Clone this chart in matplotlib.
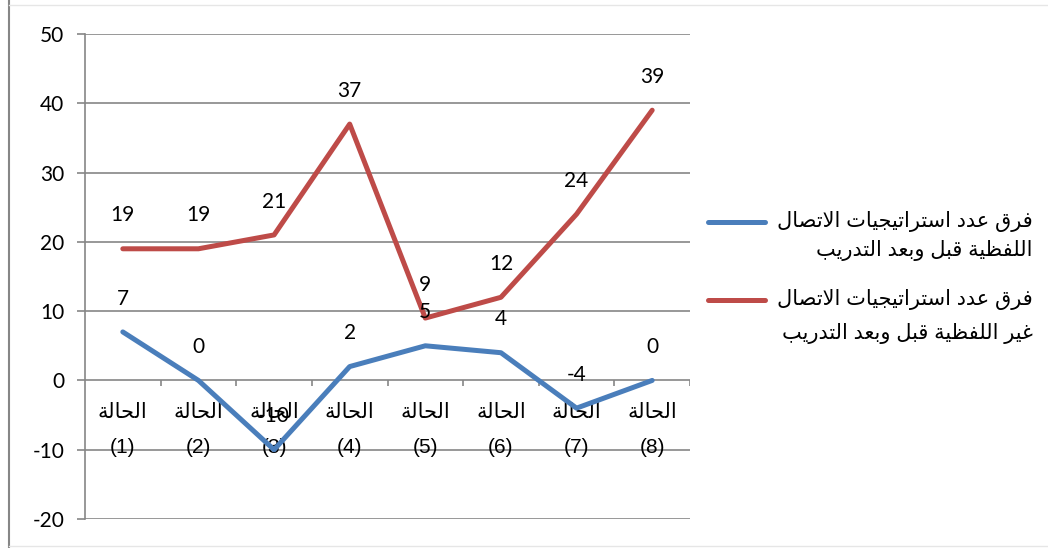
import matplotlib
matplotlib.use("Agg")
import matplotlib.pyplot as plt
from matplotlib.lines import Line2D

# ---- data ----
case_word = "الحالة"
case_numbers = ["(1)", "(2)", "(3)", "(4)", "(5)", "(6)", "(7)", "(8)"]
verbal_diff = [7, 0, -10, 2, 5, 4, -4, 0]
nonverbal_diff = [19, 19, 21, 37, 9, 12, 24, 39]
series_names = [
    ["فرق عدد استراتيجيات الاتصال", "اللفظية قبل وبعد التدريب"],
    ["فرق عدد استراتيجيات الاتصال", "غير اللفظية قبل وبعد التدريب"],
]
y_ticks = [-20, -10, 0, 10, 20, 30, 40, 50]

# ---- minimal Arabic shaping (presentation forms + visual order) ----
FORMS = {
    '\u0627': ('\uFE8D', '\uFE8E', None, None),
    '\u0628': ('\uFE8F', '\uFE90', '\uFE91', '\uFE92'),
    '\u0629': ('\uFE93', '\uFE94', None, None),
    '\u062A': ('\uFE95', '\uFE96', '\uFE97', '\uFE98'),
    '\u062C': ('\uFE9D', '\uFE9E', '\uFE9F', '\uFEA0'),
    '\u062D': ('\uFEA1', '\uFEA2', '\uFEA3', '\uFEA4'),
    '\u062F': ('\uFEA9', '\uFEAA', None, None),
    '\u0631': ('\uFEAD', '\uFEAE', None, None),
    '\u0633': ('\uFEB1', '\uFEB2', '\uFEB3', '\uFEB4'),
    '\u0635': ('\uFEB9', '\uFEBA', '\uFEBB', '\uFEBC'),
    '\u0637': ('\uFEC1', '\uFEC2', '\uFEC3', '\uFEC4'),
    '\u0638': ('\uFEC5', '\uFEC6', '\uFEC7', '\uFEC8'),
    '\u0639': ('\uFEC9', '\uFECA', '\uFECB', '\uFECC'),
    '\u063A': ('\uFECD', '\uFECE', '\uFECF', '\uFED0'),
    '\u0641': ('\uFED1', '\uFED2', '\uFED3', '\uFED4'),
    '\u0642': ('\uFED5', '\uFED6', '\uFED7', '\uFED8'),
    '\u0644': ('\uFEDD', '\uFEDE', '\uFEDF', '\uFEE0'),
    '\u0648': ('\uFEED', '\uFEEE', None, None),
    '\u064A': ('\uFEF1', '\uFEF2', '\uFEF3', '\uFEF4'),
}


def _dual(c):
    return c in FORMS and FORMS[c][2] is not None


def shape(s):
    chars = list(s)
    n = len(chars)
    res = []
    i = 0
    while i < n:
        c = chars[i]
        if c not in FORMS:
            res.append(c)
            i += 1
            continue
        prev = chars[i - 1] if i > 0 else None
        join_prev = prev is not None and _dual(prev)
        if c == '\u0644' and i + 1 < n and chars[i + 1] == '\u0627':
            res.append('\uFEFC' if join_prev else '\uFEFB')
            i += 2
            continue
        nxt = chars[i + 1] if i + 1 < n else None
        join_next = _dual(c) and nxt in FORMS
        iso, fin, ini, med = FORMS[c]
        if join_prev and join_next:
            g = med
        elif join_prev:
            g = fin
        elif join_next:
            g = ini
        else:
            g = iso
        res.append(g)
        i += 1
    return ''.join(reversed(res))


AR_FONT = ['Liberation Sans', 'DejaVu Sans']
NUM_FONT = ['Lato', 'DejaVu Sans']
GRID = '#868686'
BLUE = '#4A7EBB'
RED = '#BE4B48'

fig = plt.figure(figsize=(10.48, 5.48), dpi=100)
fig.patch.set_facecolor('white')
ax = fig.add_axes([85 / 1048, 1 - 519 / 548, 605 / 1048, 485 / 548])

x = list(range(1, len(case_numbers) + 1))
ax.set_xlim(0.5, len(x) + 0.5)
ax.set_ylim(-20, 50)

# gridlines
for yv in y_ticks:
    ax.axhline(yv, color=GRID, lw=1.2, zorder=1)
for sp in ['top', 'right', 'bottom']:
    ax.spines[sp].set_visible(False)
ax.spines['left'].set_color(GRID)
ax.spines['left'].set_linewidth(1.2)

ax.set_yticks(y_ticks)
ax.set_yticklabels([str(v) for v in y_ticks], fontsize=15, family=NUM_FONT)
ax.tick_params(axis='y', length=6, width=1.2, color=GRID, pad=9)
ax.set_xticks([])

# category-axis ticks at boundaries below zero line
bounds = [i + 0.5 for i in x]
ax.vlines(bounds, -0.75, 0, color=GRID, lw=1.2, zorder=1)

# series
ax.plot(x, verbal_diff, color=BLUE, lw=3.6, solid_capstyle='round',
        solid_joinstyle='round', zorder=3)
ax.plot(x, nonverbal_diff, color=RED, lw=3.6, solid_capstyle='round',
        solid_joinstyle='round', zorder=3)

# data labels
for xi, v in zip(x, verbal_diff):
    ax.annotate(str(v), (xi, v), xytext=(0, 24), textcoords='offset points',
                ha='center', va='center', fontsize=15, family=NUM_FONT, zorder=4)
for xi, v in zip(x, nonverbal_diff):
    ax.annotate(str(v), (xi, v), xytext=(0, 24), textcoords='offset points',
                ha='center', va='center', fontsize=15, family=NUM_FONT, zorder=4)

# category labels
cw = shape(case_word)
for xi, num in zip(x, case_numbers):
    ax.annotate(cw, (xi, 0), xytext=(0, -23), textcoords='offset points',
                ha='center', va='center', fontsize=15, family=AR_FONT, zorder=2)
    ax.annotate(num, (xi, 0), xytext=(0, -48), textcoords='offset points',
                ha='center', va='center', fontsize=15, family=AR_FONT, zorder=2)

# legend (manual, RTL right-aligned)
W, H = 1048, 548
leg = [(BLUE, 222, 250), (RED, 300, 333)]
for (col, y1, y2), lines in zip(leg, series_names):
    fig.add_artist(Line2D([708 / W, 765 / W], [1 - y1 / H, 1 - y1 / H],
                          color=col, lw=3.6, solid_capstyle='round'))
    fig.text(1033 / W, 1 - y1 / H, shape(lines[0]), ha='right', va='center',
             fontsize=15, family=AR_FONT)
    fig.text(1033 / W, 1 - y2 / H, shape(lines[1]), ha='right', va='center',
             fontsize=15, family=AR_FONT)

# outer chart border
fig.add_artist(Line2D([9 / W, 9 / W], [0, 1], color=GRID, lw=1.5))
fig.add_artist(Line2D([9 / W, 1], [1 - 5 / H, 1 - 5 / H], color='#E6E6E6', lw=1))
fig.add_artist(Line2D([9 / W, 1], [1 - 546 / H, 1 - 546 / H], color='#E6E6E6', lw=1))

fig.savefig('out.png', dpi=100, facecolor='white')
